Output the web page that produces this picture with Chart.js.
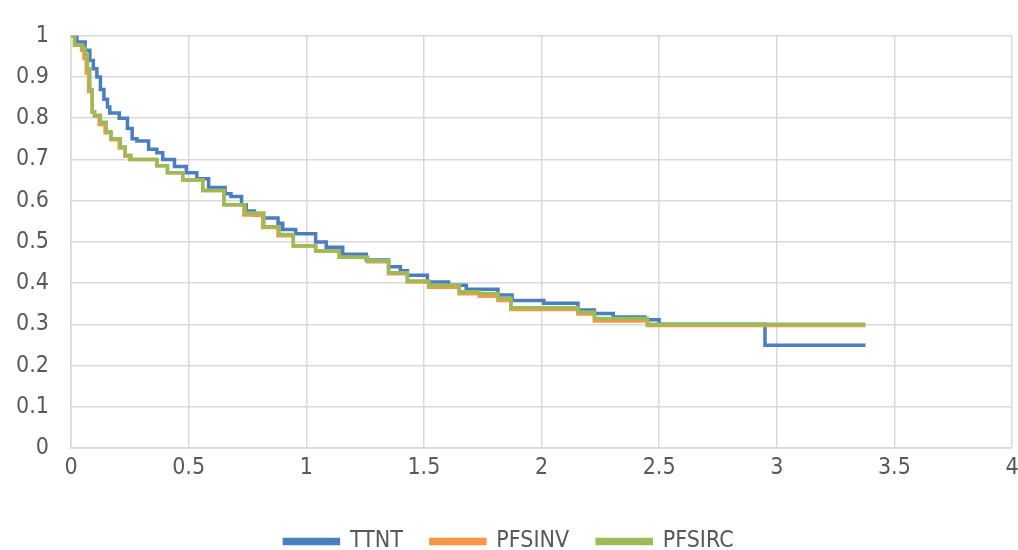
<!DOCTYPE html>
<html>
<head>
<meta charset="utf-8">
<script src="https://cdn.jsdelivr.net/npm/chart.js@4"></script>
<style>
  html, body { margin: 0; padding: 0; background: #fff; }
</style>
</head>
<body>
<canvas id="chartKM" width="1018" height="550"></canvas>
<script>
// Courbes en escalier (temps en années, survie)
const ttntTimes = [0, 0.025, 0.06, 0.08, 0.095, 0.11, 0.125, 0.14, 0.155, 0.165, 0.205, 0.24, 0.26, 0.28, 0.33, 0.365, 0.39, 0.44, 0.49, 0.535, 0.585, 0.655, 0.68, 0.725, 0.745, 0.78, 0.815, 0.88, 0.9, 0.955, 1.04, 1.085, 1.155, 1.255, 1.35, 1.40, 1.43, 1.515, 1.605, 1.68, 1.815, 1.875, 2.01, 2.155, 2.225, 2.305, 2.44, 2.5, 2.95, 3.377];
const ttntValues = [1, 0.985, 0.965, 0.94, 0.92, 0.90, 0.87, 0.846, 0.827, 0.813, 0.80, 0.775, 0.75, 0.745, 0.725, 0.716, 0.70, 0.683, 0.668, 0.653, 0.632, 0.617, 0.61, 0.59, 0.575, 0.565, 0.558, 0.545, 0.53, 0.52, 0.50, 0.487, 0.47, 0.456, 0.44, 0.43, 0.419, 0.403, 0.395, 0.385, 0.371, 0.358, 0.351, 0.335, 0.326, 0.318, 0.311, 0.30, 0.249, 0.249];

const pfsinvTimes = [0, 0.015, 0.045, 0.055, 0.065, 0.075, 0.09, 0.10, 0.12, 0.145, 0.17, 0.205, 0.23, 0.25, 0.365, 0.41, 0.475, 0.56, 0.65, 0.735, 0.815, 0.88, 0.945, 1.04, 1.14, 1.26, 1.35, 1.43, 1.52, 1.65, 1.735, 1.815, 1.87, 2.155, 2.225, 2.45, 3.377];
const pfsinvValues = [1, 0.977, 0.965, 0.945, 0.91, 0.865, 0.815, 0.805, 0.785, 0.765, 0.748, 0.728, 0.708, 0.70, 0.685, 0.668, 0.65, 0.625, 0.59, 0.565, 0.535, 0.515, 0.49, 0.478, 0.463, 0.452, 0.423, 0.403, 0.39, 0.374, 0.368, 0.358, 0.336, 0.325, 0.308, 0.297, 0.297];

const pfsircTimes = [0, 0.015, 0.05, 0.06, 0.07, 0.08, 0.09, 0.10, 0.125, 0.15, 0.17, 0.21, 0.23, 0.255, 0.365, 0.41, 0.475, 0.56, 0.65, 0.74, 0.82, 0.885, 0.945, 1.04, 1.14, 1.26, 1.35, 1.43, 1.52, 1.65, 1.735, 1.815, 1.87, 2.155, 2.225, 2.45, 3.377];
const pfsircValues = [1, 0.977, 0.97, 0.955, 0.92, 0.87, 0.815, 0.807, 0.79, 0.767, 0.75, 0.73, 0.71, 0.70, 0.685, 0.668, 0.65, 0.625, 0.59, 0.57, 0.537, 0.518, 0.49, 0.478, 0.463, 0.454, 0.425, 0.405, 0.395, 0.379, 0.375, 0.363, 0.34, 0.33, 0.314, 0.30, 0.30];

const xTicks = [0, 0.5, 1, 1.5, 2, 2.5, 3, 3.5, 4];

const FONT = "'DejaVu Sans Condensed', 'DejaVu Sans', sans-serif";
const TXT = "#595959";
const GRID = "#d9d9d9";

function toPoints(times, values) {
  return times.map((t, i) => ({ x: t, y: values[i] }));
}

function fmt(v) {
  return String(Number(v.toFixed(2)));
}

// légende plus compacte
const legendHeight = {
  id: "legendHeight",
  beforeInit(chart) {
    const fit = chart.legend.fit;
    chart.legend.fit = function () {
      fit.bind(chart.legend)();
      this.height = 48;
    };
  }
};

const ctx = document.getElementById("chartKM").getContext("2d");

new Chart(ctx, {
  type: "line",
  data: {
    datasets: [
      {
        label: "TTNT",
        data: toPoints(ttntTimes, ttntValues),
        borderColor: "#4a7ebf",
        backgroundColor: "#4a7ebf",
        borderWidth: 3.5,
        stepped: "before",
        pointRadius: 0,
        fill: false,
        order: 3
      },
      {
        label: "PFSINV",
        data: toPoints(pfsinvTimes, pfsinvValues),
        borderColor: "#f79646",
        backgroundColor: "#f79646",
        borderWidth: 3.5,
        stepped: "before",
        pointRadius: 0,
        fill: false,
        order: 2
      },
      {
        label: "PFSIRC",
        data: toPoints(pfsircTimes, pfsircValues),
        borderColor: "#9bbb59",
        backgroundColor: "#9bbb59",
        borderWidth: 3.5,
        stepped: "before",
        pointRadius: 0,
        fill: false,
        order: 1
      }
    ]
  },
  options: {
    responsive: false,
    animation: false,
    devicePixelRatio: 1,
    layout: { padding: { top: 27, right: 0, left: 0, bottom: 0 } },
    plugins: {
      legend: {
        display: true,
        position: "bottom",
        labels: {
          boxWidth: 54,
          boxHeight: 4,
          padding: 28,
          color: TXT,
          font: { family: FONT, size: 23 },
          sort: (a, b) => a.datasetIndex - b.datasetIndex
        }
      },
      tooltip: { enabled: false }
    },
    scales: {
      x: {
        type: "linear",
        min: 0,
        max: 4,
        afterBuildTicks: (s) => { s.ticks = xTicks.map(v => ({ value: v })); },
        afterFit: (s) => { s.height = 54; s.paddingRight = 6; },
        ticks: { color: TXT, font: { family: FONT, size: 23 }, padding: 6, callback: fmt, maxRotation: 0 },
        grid: { color: GRID, lineWidth: 1.5, drawTicks: false },
        border: { color: GRID, width: 1.5 }
      },
      y: {
        min: 0,
        max: 1,
        ticks: { stepSize: 0.1, color: TXT, font: { family: FONT, size: 23 }, padding: 22, callback: fmt },
        afterFit: (s) => { s.width = 71; },
        grid: { color: GRID, lineWidth: 1.5, drawTicks: false },
        border: { color: GRID, width: 1.5 }
      }
    }
  },
  plugins: [legendHeight]
});
</script>
</body>
</html>
